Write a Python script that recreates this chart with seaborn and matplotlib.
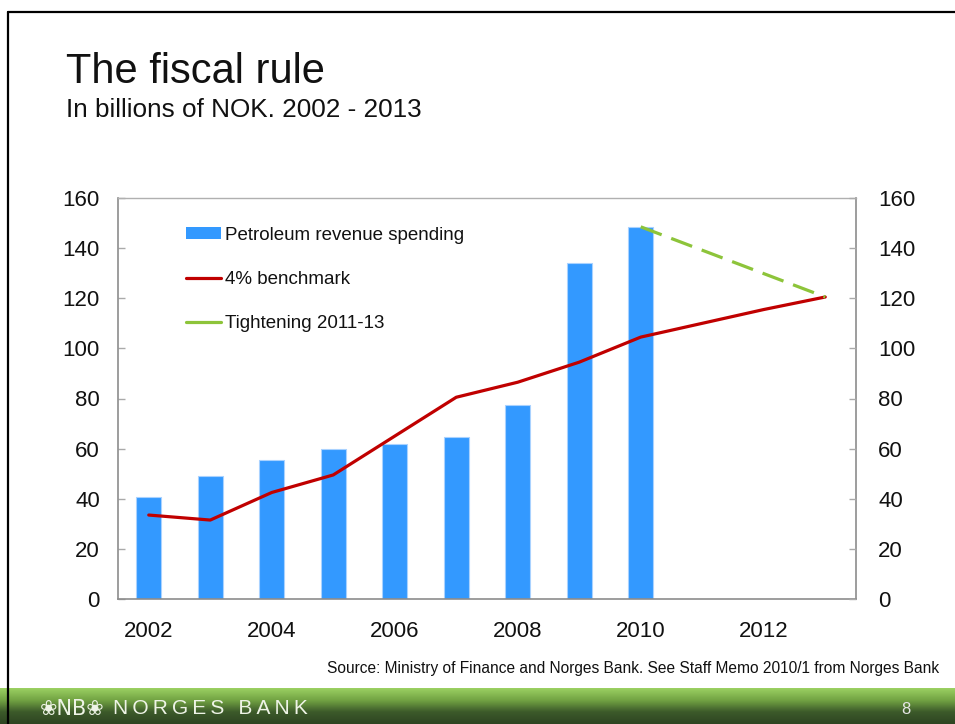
import numpy as np
import pandas as pd
import seaborn as sns
from matplotlib import pyplot as plt
from matplotlib.patches import Patch
from matplotlib.lines import Line2D
from matplotlib.colors import LinearSegmentedColormap

# data (billions of NOK)
spending_years = [2002, 2003, 2004, 2005, 2006, 2007, 2008, 2009, 2010]
spending = [40.5, 49, 55.5, 60, 62, 64.5, 77.5, 134, 148.5]
benchmark_years = [2002, 2003, 2004, 2005, 2006, 2007, 2008, 2009, 2010, 2011, 2012, 2013]
benchmark = [33.5, 31.5, 42.5, 49.5, 65, 80.5, 86.5, 94.5, 104.5, 110, 115.5, 120.5]
tightening_years = [2010, 2013]
tightening = [148.5, 120.5]
xtick_years = [2002, 2004, 2006, 2008, 2010, 2012]
yticks = [0, 20, 40, 60, 80, 100, 120, 140, 160]

df_bar = pd.DataFrame({"year": spending_years, "value": spending})
df_bench = pd.DataFrame({"year": benchmark_years, "value": benchmark})
df_tight = pd.DataFrame({"year": tightening_years, "value": tightening})

sns.set_style("white")
plt.rcParams['font.family'] = ['Liberation Sans', 'DejaVu Sans']

BLUE = "#3399FF"
RED = "#C00000"
GREEN = "#8DC43A"
SPINE = "#8C8C8C"

fig = plt.figure(figsize=(9.55, 7.24), dpi=100)
ax = fig.add_axes([118 / 955, 1 - 599 / 724, 738 / 955, 401 / 724])

sns.barplot(data=df_bar, x="year", y="value", native_scale=True, width=0.4,
            color=BLUE, saturation=1, edgecolor="#A9D2FF", linewidth=0.8, ax=ax)
sns.lineplot(data=df_bench, x="year", y="value", color=RED, lw=2.3, ax=ax)
sns.lineplot(data=df_tight, x="year", y="value", color=GREEN, lw=2.3,
             ls=(0, (7, 3.2)), ax=ax)

ax.set_xlim(2001.5, 2013.5)
ax.set_ylim(0, 160)
ax.set_xticks(xtick_years)
ax.set_xticklabels([str(y) for y in xtick_years])
ax.set_yticks(yticks)
ax.set_xlabel("")
ax.set_ylabel("")
ax.tick_params(axis="x", length=0, pad=16, labelsize=16, labelcolor="#111111")
ax.tick_params(axis="y", direction="in", length=5, width=1, color="#AAAAAA",
               pad=13, labelsize=16, labelcolor="#111111")
for s in ["left", "bottom", "right"]:
    ax.spines[s].set_color(SPINE)
    ax.spines[s].set_linewidth(1.2)
ax.spines["top"].set_color("#B0B0B0")
ax.spines["top"].set_linewidth(1.0)

ax2 = ax.twinx()
ax2.set_ylim(0, 160)
ax2.set_yticks(yticks)
ax2.tick_params(axis="y", direction="in", length=5, width=1, color="#AAAAAA",
                pad=16, labelsize=16, labelcolor="#111111")
for s in ax2.spines.values():
    s.set_visible(False)

handles = [
    Patch(facecolor=BLUE, edgecolor="none", label="Petroleum revenue spending"),
    Line2D([], [], color=RED, lw=2.3, label="4% benchmark"),
    Line2D([], [], color=GREEN, lw=2.3, label="Tightening 2011-13"),
]
leg = ax.legend(handles=handles, loc="upper left", bbox_to_anchor=(0.080, 0.951),
                frameon=False, fontsize=13.5, handlelength=1.85, handleheight=0.6,
                handletextpad=0.2, labelspacing=1.45, borderpad=0)
for t in leg.get_texts():
    t.set_color("#111111")

# titles and source
fig.text(66 / 955, 1 - 83 / 724, "The fiscal rule", fontsize=30, va="baseline",
         ha="left", color="#111111")
fig.text(66 / 955, 1 - 117 / 724, "In billions of NOK. 2002 - 2013", fontsize=18.8,
         va="baseline", ha="left", color="#111111")
fig.text(327 / 955, 1 - 673 / 724,
         "Source: Ministry of Finance and Norges Bank. See Staff Memo 2010/1 from Norges Bank",
         fontsize=11.2, va="baseline", ha="left", color="#111111")

# bottom green band
band = fig.add_axes([0, 0, 1, 36 / 724])
grad = np.linspace(0, 1, 64).reshape(-1, 1)
cmap = LinearSegmentedColormap.from_list("band", ["#9BD062", "#72A343", "#3C5A2A", "#2E4522"])
band.imshow(grad, aspect="auto", cmap=cmap, extent=[0, 1, 0, 1])
band.set_axis_off()
fig.text(40 / 955, 1 - 709 / 724, "\u2740NB\u2740", fontsize=15, va="center", ha="left",
         color="#EEF3E6", family=["DejaVu Sans"])
fig.text(113 / 955, 1 - 709 / 724, "\u2009".join("NORGES BANK"), fontsize=15,
         va="center", ha="left", color="#EEF3E6")
fig.text(906 / 955, 1 - 710 / 724, "8", fontsize=12, va="center", ha="center",
         color="#E6E6E6")

# slide frame
fig.add_artist(Line2D([8 / 955, 8 / 955], [0, 1 - 12 / 724], color="black", lw=1.6,
                      transform=fig.transFigure))
fig.add_artist(Line2D([8 / 955, 1], [1 - 12 / 724, 1 - 12 / 724], color="black", lw=1.6,
                      transform=fig.transFigure))

fig.savefig("out.png", dpi=100)
